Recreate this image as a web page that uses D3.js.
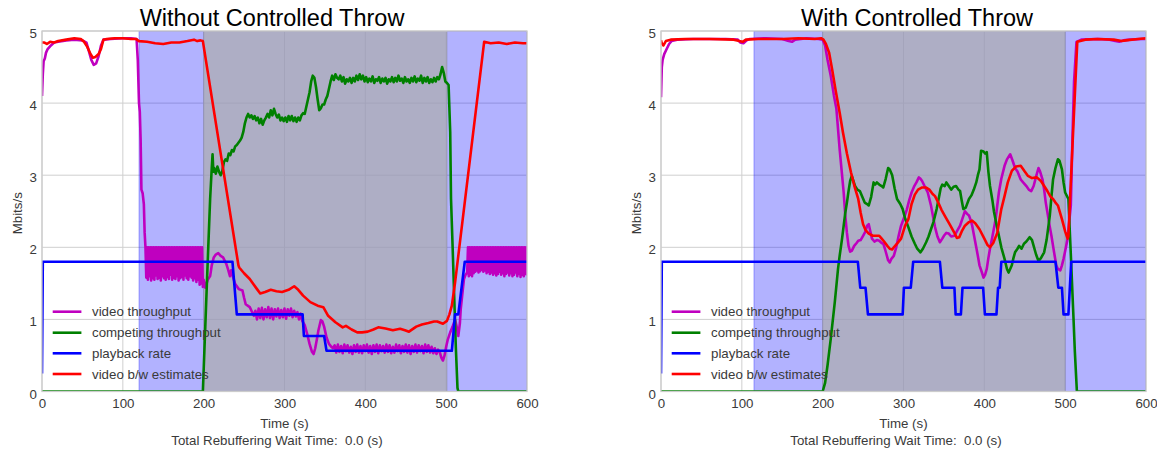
<!DOCTYPE html>
<html>
<head>
<meta charset="utf-8">
<script src="https://cdn.jsdelivr.net/npm/d3@7"></script>
<style>
  html, body { margin: 0; padding: 0; background: #ffffff; }
  text { font-family: "Liberation Sans", Arial, sans-serif; }
</style>
</head>
<body>
<svg id="chart" width="1157" height="453"></svg>
<script>
// ---------- shared labels and ticks ----------
const timeTicks = [0, 100, 200, 300, 400, 500, 600];
const rateTicks = [0, 1, 2, 3, 4, 5];
const seriesLabels = ["video throughput", "competing throughput", "playback rate", "video b/w estimates"];
const panelTitles = ["Without Controlled Throw", "With Controlled Throw"];
const xAxisLabel = "Time (s)";
const yAxisLabel = "Mbits/s";
const rebufferNotes = ["Total Rebuffering Wait Time:  0.0 (s)", "Total Rebuffering Wait Time:  0.0 (s)"];

// shaded phases, seconds
const leftBlueSpan = [120, 600];
const leftGreySpan = [200, 501];
const rightBlueSpan = [115, 600];
const rightGreySpan = [200, 500];

// samples taken at a fixed step starting at t0
function run(t0, step, values) { return values.map((v, i) => [t0 + i * step, v]); }

// ---------- left panel: without controlled throw ----------
const leftVideoHead = [[0,4.1],[1,4.4],[2,4.58],[3.5,4.62],[5,4.7],[7,4.75],[11,4.8],[15,4.84],[20,4.85],[30,4.87],[40,4.88],[50,4.87],[55,4.84],[58,4.72],[61,4.6],[64,4.53],[67,4.55],[70,4.65],[73,4.8],[76,4.88],[85,4.89],[100,4.9],[110,4.9],[117,4.89],[118.5,4.6],[120,4.0],[121,3.88],[122,3.5],[123,2.8],[124.5,2.75],[126,2.6],[127,2.2]];
const leftVideoBand1 = run(128, 1, [2.0,1.58,2.0,1.55,2.0,1.6,2.0,1.54,2.0,1.57,2.0,1.55,2.0,1.61,2.0,1.56,2.0,1.58,2.0,1.54,2.0,1.6,2.0,1.57,2.0,1.55,2.0,1.59,2.0,1.56,2.0,1.62,2.0,1.55,2.0,1.58,2.0,1.56,2.0,1.6,2.0,1.54,2.0,1.57,2.0,1.59,2.0,1.55,2.0,1.61,2.0,1.57,2.0,1.55,2.0,1.6,2.0,1.58,2.0,1.54,2.0,1.57,2.0,1.52,2.0,1.55,2.0,1.48,2.0,1.5,2.0,1.45]);
const leftVideoMid = [[200,1.55],[202,1.44],[205,1.55],[208,1.6],[210,1.75],[212.5,1.86],[215,1.9],[218,1.92],[221,1.88],[224,1.86],[228,1.77],[230,1.7],[232.5,1.6],[234,1.68],[236,1.6],[239,1.49],[243.5,1.42],[248,1.4],[250,1.3],[252,1.21],[257,1.17],[260,1.1],[262,1.05]];
const leftVideoBand2 = run(264, 2, [1.12,1.0,1.15,1.02,1.16,1.0,1.14,1.03,1.17,1.02,1.15,1.0,1.14,1.04,1.15,1.02,1.13,1.03,1.15,1.01,1.14,1.05,1.15,1.03,1.12,1.04,1.1,1.0,1.08]);
const leftVideoDip = [[322,0.98],[325,0.92],[328,0.8],[331,0.66],[334,0.55],[336,0.52],[338,0.6],[340,0.72],[342,0.85],[345,0.99],[347,0.97],[349,0.9],[352,0.75],[355,0.66],[358,0.62],[360,0.6]];
const leftVideoBand3 = run(362, 2, [0.64,0.54,0.65,0.55,0.63,0.53,0.65,0.56,0.64,0.54,0.62,0.52,0.64,0.55,0.65,0.54,0.63,0.53,0.64,0.56,0.65,0.54,0.63,0.52,0.64,0.55,0.65,0.53,0.64,0.56,0.63,0.54,0.65,0.55,0.64,0.53,0.62,0.54,0.65,0.56,0.64,0.53,0.63,0.55,0.65,0.54,0.64,0.52,0.63,0.55,0.65,0.54,0.64,0.56,0.63,0.53,0.65,0.55,0.64,0.54,0.62,0.53,0.6,0.52,0.58]);
const leftVideoTail = [[492,0.55],[494,0.47],[496,0.43],[498,0.5],[500,0.62],[502,0.72],[505,0.82],[508,0.9],[511,1.0],[513,0.9],[515,0.77],[517,0.95],[518,1.14],[520,1.35],[522,1.56],[524,1.62]];
const leftVideoBand4 = run(526, 1, [1.65,2.0,1.6,2.0,1.62,2.0,1.6,2.0,1.64,2.0,1.66,2.0,1.68,2.0,1.65,2.0,1.67,2.0,1.69,2.0,1.66,2.0,1.68,2.0,1.64,2.0,1.66,2.0,1.63,2.0,1.65,2.0,1.62,2.0,1.64,2.0,1.61,2.0,1.63,2.0,1.66,2.0,1.62,2.0,1.64,2.0,1.6,2.0,1.63,2.0,1.65,2.0,1.61,2.0,1.64,2.0,1.6,2.0,1.62,2.0,1.65,2.0,1.6,2.0,1.63,2.0,1.59,2.0,1.62,2.0,1.6,2.0,1.63,2.0,1.61]);
const leftVideo = [].concat(leftVideoHead, leftVideoBand1, leftVideoMid, leftVideoBand2, leftVideoDip, leftVideoBand3, leftVideoTail, leftVideoBand4);

const leftCompetingRise = [[0,0],[199,0],[202,0.9],[205,1.8],[208,2.67],[210,3.1],[211,3.29],[212,3.05],[213,3.1],[215,3.02],[217,3.12],[219,3.05],[221,3.0],[223,3.05],[225,3.18],[227,3.22],[229,3.2],[231,3.3],[233,3.28],[235,3.35],[237,3.33],[239,3.4],[241,3.42],[243,3.45],[245,3.48],[247,3.52],[249,3.6],[251,3.72],[253,3.8],[255,3.85],[257,3.8],[259,3.83],[261,3.78],[263,3.82],[265,3.76],[267,3.8],[269,3.72],[271,3.78],[273,3.7],[275,3.76],[277,3.8],[279,3.85],[281,3.8],[283,3.9],[285,3.83],[287,3.92],[289,3.85],[291,3.8],[293,3.84],[295,3.76],[297,3.8],[299,3.75],[301,3.8],[303,3.74],[305,3.82],[307,3.76],[309,3.82],[311,3.75],[313,3.8],[315,3.74],[317,3.8],[319,3.76],[321,3.83],[323,3.86],[325,3.85],[327,3.95],[329,4.05],[331,4.15],[333,4.3],[335,4.38],[337,4.35],[339,4.22],[341,4.05],[343,3.9],[345,3.93],[347,3.98],[349,3.98],[351,4.05],[353,4.1],[355,4.2],[357,4.3],[359,4.38],[361,4.32]];
const leftCompetingPlateau = run(363, 2, [4.4,4.35,4.33,4.38,4.3,4.36,4.27,4.33,4.3,4.35,4.28,4.35,4.3,4.38,4.32,4.4,4.33,4.38,4.3,4.36,4.29,4.34,4.3,4.37,4.28,4.33,4.31,4.36,4.28,4.34,4.3,4.35,4.27,4.33,4.3,4.36,4.29,4.35,4.3,4.38,4.31,4.34,4.28,4.36,4.3,4.33,4.28,4.35,4.3,4.37,4.29,4.34,4.31,4.38,4.28,4.35,4.3,4.36,4.28,4.33,4.29,4.35,4.3,4.36,4.33]);
const leftCompetingFall = [[493,4.4],[495,4.5],[497,4.42],[499,4.3],[501,4.28],[503,4.25],[505,3.6],[506,2.67],[508,2.0],[510,1.3],[512,0.6],[514,0.05],[515,0],[600,0]];
const leftCompeting = [].concat(leftCompetingRise, leftCompetingPlateau, leftCompetingFall);

const leftPlayback = [[0,0.25],[1,1.8],[235.6,1.8],[241,1.07],[322.4,1.07],[324,0.77],[349,0.77],[352,0.565],[507,0.565],[511,1.07],[515,1.07],[523,1.8],[600,1.8]];

const leftEstimate = [[0,4.84],[3,4.84],[6,4.82],[10,4.85],[15,4.84],[20,4.86],[30,4.88],[40,4.9],[48,4.89],[52,4.85],[56,4.78],[60,4.68],[63,4.63],[66,4.64],[70,4.68],[73,4.75],[76,4.88],[80,4.89],[90,4.9],[100,4.9],[110,4.89],[116,4.89],[120,4.86],[130,4.85],[140,4.83],[150,4.82],[160,4.84],[170,4.84],[180,4.86],[188,4.88],[192,4.86],[196,4.87],[199,4.86],[243,1.75],[244,1.72],[250,1.64],[257,1.56],[266,1.42],[270,1.36],[276,1.38],[283,1.41],[290,1.39],[297,1.38],[305,1.41],[312,1.46],[317,1.41],[323,1.33],[332,1.24],[341,1.19],[348,1.17],[354,1.05],[363,0.96],[372,0.89],[376,0.91],[383,0.86],[390,0.82],[396,0.82],[403,0.83],[410,0.86],[416,0.89],[425,0.875],[434,0.85],[443,0.87],[449,0.85],[454,0.83],[463,0.9],[470,0.93],[478,0.95],[485,0.97],[489,0.97],[496,0.94],[501,0.98],[504,1.07],[507,1.19],[511,1.51],[547,4.85],[555,4.83],[565,4.84],[575,4.82],[585,4.84],[595,4.83],[600,4.83]];

// ---------- right panel: with controlled throw ----------
const rightVideo = [[0,4.08],[1,4.5],[2,4.6],[4,4.68],[7,4.75],[10,4.82],[13,4.86],[20,4.88],[40,4.89],[60,4.89],[80,4.89],[95,4.88],[98,4.84],[102,4.83],[106,4.87],[110,4.89],[130,4.9],[150,4.89],[158,4.86],[162,4.85],[166,4.88],[180,4.9],[195,4.89],[200,4.88],[203,4.8],[206,4.6],[210,4.38],[214,4.1],[217,3.92],[221,3.36],[224,3.0],[226,2.76],[228,2.44],[230,2.2],[232,2.02],[234,1.94],[236,1.95],[239,2.02],[242,2.06],[244,2.09],[247,2.1],[250,2.16],[253,2.22],[255,2.3],[257,2.32],[259,2.22],[261,2.12],[264,2.08],[267,2.1],[270,2.09],[273,2.06],[275,2.05],[277,1.98],[279,1.9],[281,1.82],[283,1.79],[285,1.84],[288,1.88],[291,2.0],[294,2.16],[297,2.3],[301,2.42],[304,2.52],[307,2.65],[310,2.76],[313,2.84],[316,2.9],[319,2.97],[321,2.95],[323,2.92],[326,2.85],[330,2.76],[334,2.58],[337,2.4],[339,2.28],[342,2.15],[345,2.07],[348,2.12],[350,2.16],[353,2.2],[356,2.19],[359,2.15],[363,2.16],[366,2.22],[370,2.3],[373,2.4],[376,2.5],[379,2.46],[381,2.44],[383,2.38],[385,2.3],[388,2.12],[390,2.0],[392,1.88],[394,1.75],[397,1.65],[399,1.58],[401,1.62],[403,1.7],[405,1.85],[407,1.98],[410,2.15],[414,2.39],[416,2.58],[418,2.76],[421,2.95],[425,3.13],[428,3.22],[432,3.29],[435,3.2],[438,3.1],[441,3.05],[445,2.94],[448,2.9],[452,2.85],[455,2.8],[458,2.78],[461,2.85],[464,2.98],[467,3.1],[469,3.05],[472,2.94],[474,2.8],[476,2.62],[479,2.42],[481,2.28],[483,2.16],[486,1.95],[489,1.75],[491,1.7],[494,1.68],[496,1.75],[498,1.84],[500,1.95],[503,2.12],[505,2.35],[507,2.58],[509,3.5],[511,4.3],[514,4.85],[520,4.88],[540,4.89],[555,4.88],[562,4.86],[567,4.85],[572,4.87],[580,4.88],[595,4.89],[600,4.89]];

const rightCompeting = [[0,0],[200,0],[203,0.12],[206,0.36],[210,0.73],[215,1.24],[219,1.7],[221,1.88],[224,2.12],[226,2.3],[228,2.48],[230,2.62],[232,2.78],[234,2.92],[236,2.99],[238,2.92],[240,2.85],[243,2.8],[246,2.78],[249,2.7],[252,2.62],[255,2.6],[257,2.58],[260,2.7],[263,2.9],[265,2.87],[267,2.9],[270,2.87],[273,2.85],[275,2.83],[278,2.95],[281,3.1],[283,3.08],[286,3.0],[289,2.82],[292,2.67],[296,2.6],[299,2.53],[302,2.4],[306,2.28],[310,2.15],[314,2.05],[317,1.98],[321,1.93],[324,1.98],[328,2.07],[331,2.15],[334,2.25],[337,2.35],[341,2.53],[344,2.7],[346,2.82],[348,2.87],[351,2.85],[353,2.9],[356,2.85],[359,2.8],[362,2.84],[365,2.85],[368,2.8],[370,2.78],[372,2.65],[374,2.53],[377,2.55],[381,2.67],[384,2.72],[387,2.8],[390,2.9],[392,3.0],[394,3.08],[396,3.34],[399,3.33],[401,3.3],[403,3.32],[405,3.05],[407,2.85],[410,2.65],[412,2.49],[415,2.32],[418,2.16],[421,2.0],[425,1.84],[428,1.7],[430,1.65],[432,1.7],[434,1.75],[436,1.85],[438,1.93],[441,1.98],[443,2.02],[446,1.98],[449,2.05],[452,2.08],[456,2.14],[459,2.1],[461,2.02],[464,1.9],[467,1.81],[470,1.85],[474,1.93],[477,2.1],[481,2.44],[483,2.7],[485,2.94],[488,3.1],[491,3.22],[493,3.2],[496,3.08],[498,2.9],[500,2.76],[504,2.67],[507,1.9],[510,1.1],[512,0.55],[514.5,0],[600,0]];

const rightPlayback = [[0,0.25],[1,1.8],[243.5,1.8],[246.5,1.44],[253,1.44],[256,1.07],[299,1.07],[300.5,1.44],[309,1.44],[312,1.8],[345,1.8],[348,1.44],[363,1.44],[364.5,1.07],[371,1.07],[373,1.44],[398.5,1.44],[400.7,1.07],[415,1.07],[417,1.44],[419,1.44],[421,1.8],[488,1.8],[491.5,1.44],[496,1.44],[498,1.07],[504,1.07],[507.5,1.8],[600,1.8]];

const rightEstimate = [[0,4.87],[1,4.83],[3,4.8],[6,4.86],[12,4.88],[30,4.89],[60,4.89],[90,4.88],[97,4.86],[101,4.85],[105,4.88],[120,4.89],[150,4.89],[170,4.9],[190,4.89],[198,4.9],[201,4.88],[204,4.82],[208,4.7],[212,4.45],[216,4.18],[221,3.87],[225,3.6],[230,3.3],[235,3.04],[240,2.82],[244,2.67],[247,2.48],[250,2.32],[253,2.24],[257,2.19],[262,2.16],[266,2.16],[270,2.16],[273,2.12],[276,2.08],[280,2.02],[283,1.98],[286,1.97],[288,2.0],[292,2.05],[297,2.12],[302,2.3],[306,2.39],[310,2.6],[314,2.73],[318,2.8],[323,2.83],[328,2.83],[332,2.8],[336,2.74],[339,2.71],[343,2.62],[347,2.52],[352,2.42],[357,2.32],[363,2.2],[366,2.13],[369,2.14],[372,2.22],[376,2.3],[381,2.35],[385,2.37],[389,2.33],[394,2.25],[400,2.12],[404,2.03],[407,2.0],[411,2.06],[416,2.2],[419,2.4],[421,2.53],[425,2.71],[429,2.9],[434,3.06],[439,3.12],[445,3.13],[450,3.05],[454,2.99],[459,2.96],[465,2.97],[470,2.92],[474,2.85],[478,2.78],[482,2.7],[485,2.67],[488,2.62],[491,2.58],[496,2.39],[500,2.22],[503,2.12],[504,2.15],[506,2.67],[515,4.85],[525,4.88],[540,4.89],[560,4.88],[570,4.86],[575,4.87],[590,4.89],[600,4.9]];

// ---------- drawing ----------
const seriesColors = ["#bf00bf", "#008000", "#0000ff", "#ff0000"];
const svg = d3.select("#chart");
const plotTop = 31, plotBottom = 391.5;

const panels = [
  { x0: 42, x1: 527, title: panelTitles[0], titleX: 272, noteX: 277, note: rebufferNotes[0],
    blue: leftBlueSpan, grey: leftGreySpan, series: [leftVideo, leftCompeting, leftPlayback, leftEstimate] },
  { x0: 661, x1: 1146, title: panelTitles[1], titleX: 917, noteX: 896, note: rebufferNotes[1],
    blue: rightBlueSpan, grey: rightGreySpan, series: [rightVideo, rightCompeting, rightPlayback, rightEstimate] }
];

panels.forEach((p, pi) => {
  const x = d3.scaleLinear().domain([0, 600]).range([p.x0, p.x1]);
  const y = d3.scaleLinear().domain([0, 5]).range([plotBottom, plotTop]);
  const g = svg.append("g");
  const clipId = "plot-clip-" + pi;
  g.append("clipPath").attr("id", clipId).append("rect")
    .attr("x", p.x0).attr("y", plotTop).attr("width", p.x1 - p.x0).attr("height", plotBottom - plotTop);

  // grid
  const grid = g.append("g");
  grid.selectAll("line.v").data(timeTicks).join("line")
    .attr("x1", d => x(d)).attr("x2", d => x(d)).attr("y1", plotTop).attr("y2", plotBottom)
    .attr("stroke", "#cfcfcf").attr("stroke-width", 1);
  grid.selectAll("line.h").data(rateTicks).join("line")
    .attr("y1", d => y(d)).attr("y2", d => y(d)).attr("x1", p.x0).attr("x2", p.x1)
    .attr("stroke", "#cfcfcf").attr("stroke-width", 1);

  // shaded phases
  const spans = g.append("g").attr("clip-path", `url(#${clipId})`);
  spans.append("rect")
    .attr("x", x(p.blue[0])).attr("width", x(p.blue[1]) - x(p.blue[0]))
    .attr("y", plotTop).attr("height", plotBottom - plotTop)
    .attr("fill", "#0000ff").attr("fill-opacity", 0.3)
    .attr("stroke", "#0000ff").attr("stroke-opacity", 0.3).attr("stroke-width", 1);
  spans.append("rect")
    .attr("x", x(p.grey[0])).attr("width", x(p.grey[1]) - x(p.grey[0]))
    .attr("y", plotTop).attr("height", plotBottom - plotTop)
    .attr("fill", "#adadad").attr("fill-opacity", 0.7)
    .attr("stroke", "#8e8e9e").attr("stroke-opacity", 0.5).attr("stroke-width", 1);

  // series lines
  const line = d3.line().x(d => x(d[0])).y(d => y(d[1]));
  const lines = g.append("g").attr("clip-path", `url(#${clipId})`);
  p.series.forEach((s, si) => {
    lines.append("path").datum(s).attr("d", line)
      .attr("fill", "none").attr("stroke", seriesColors[si])
      .attr("stroke-width", 2.6).attr("stroke-linejoin", "round");
  });

  // frame
  g.append("rect").attr("x", p.x0).attr("y", plotTop)
    .attr("width", p.x1 - p.x0).attr("height", plotBottom - plotTop)
    .attr("fill", "none").attr("stroke", "#cccccc").attr("stroke-width", 1.25);

  // axes
  const xAxis = g.append("g").attr("transform", `translate(0,${plotBottom})`)
    .call(d3.axisBottom(x).tickValues(timeTicks).tickFormat(d3.format("d")).tickSize(0).tickPadding(7));
  const yAxis = g.append("g").attr("transform", `translate(${p.x0},0)`)
    .call(d3.axisLeft(y).tickValues(rateTicks).tickFormat(d3.format("d")).tickSize(0).tickPadding(5));
  [xAxis, yAxis].forEach(a => {
    a.select(".domain").remove();
    a.selectAll("text").attr("font-size", "13.3px").attr("fill", "#3a3a3a")
      .attr("font-family", '"Liberation Sans", Arial, sans-serif');
  });
  yAxis.selectAll("text").attr("dy", "0.49em");

  // titles and labels
  g.append("text").attr("x", p.titleX).attr("y", 25.5).attr("text-anchor", "middle")
    .attr("font-size", "23.5px").attr("fill", "#000").text(p.title);
  g.append("text").attr("x", (p.x0 + p.x1) / 2).attr("y", 427.5).attr("text-anchor", "middle")
    .attr("font-size", "13.3px").attr("fill", "#3a3a3a").text(xAxisLabel);
  g.append("text").attr("x", p.noteX).attr("y", 444.5).attr("text-anchor", "middle")
    .attr("font-size", "13.3px").attr("fill", "#3a3a3a").style("white-space", "pre").text(p.note);
  g.append("text").attr("transform", `translate(${p.x0 - 19.7},${(plotTop + plotBottom) / 2 + 2}) rotate(-90)`)
    .attr("text-anchor", "middle").attr("font-size", "13.3px").attr("fill", "#3a3a3a").text(yAxisLabel);

  // legend
  const legend = g.append("g");
  const rowY = [311.7, 332.7, 353.3, 374];
  seriesLabels.forEach((label, li) => {
    legend.append("line").attr("x1", p.x0 + 10.7).attr("x2", p.x0 + 39.4)
      .attr("y1", rowY[li]).attr("y2", rowY[li])
      .attr("stroke", seriesColors[li]).attr("stroke-width", 2.6);
    legend.append("text").attr("x", p.x0 + 50).attr("y", rowY[li] + 4.7)
      .attr("font-size", "13.3px").attr("fill", "#3a3a3a").text(label);
  });
});
</script>
</body>
</html>
